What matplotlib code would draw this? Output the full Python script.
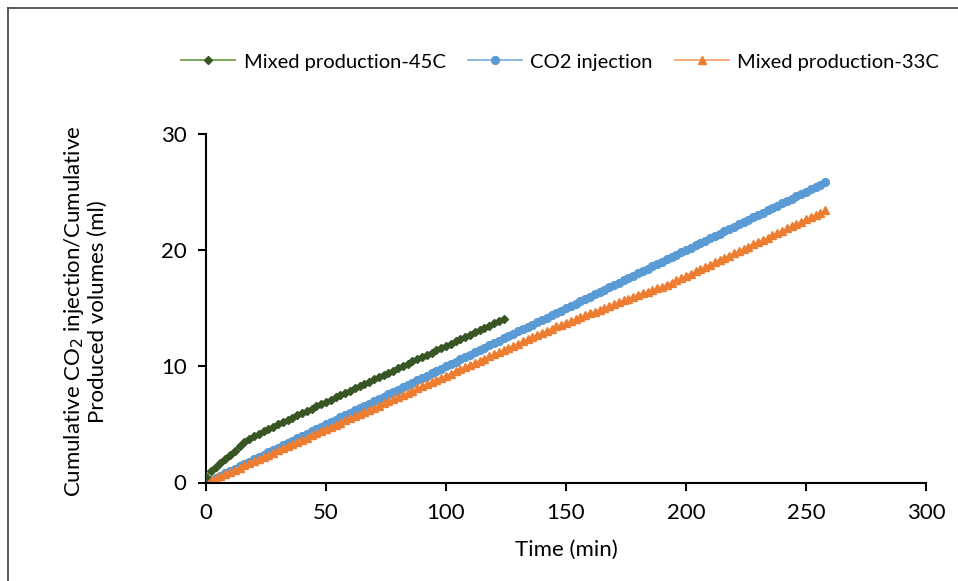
import matplotlib.pyplot as plt
from matplotlib.lines import Line2D

# sampling times (min)
time_min = [
    0, 2, 4, 6, 8, 10, 12, 14, 16, 18, 20, 22, 24, 26, 28, 30, 32, 34, 36, 38,
    40, 42, 44, 46, 48, 50, 52, 54, 56, 58, 60, 62, 64, 66, 68, 70, 72, 74, 76, 78,
    80, 82, 84, 86, 88, 90, 92, 94, 96, 98, 100, 102, 104, 106, 108, 110, 112, 114, 116, 118,
    120, 122, 124, 126, 128, 130, 132, 134, 136, 138, 140, 142, 144, 146, 148, 150, 152, 154, 156, 158,
    160, 162, 164, 166, 168, 170, 172, 174, 176, 178, 180, 182, 184, 186, 188, 190, 192, 194, 196, 198,
    200, 202, 204, 206, 208, 210, 212, 214, 216, 218, 220, 222, 224, 226, 228, 230, 232, 234, 236, 238,
    240, 242, 244, 246, 248, 250, 252, 254, 256, 258,
]

mixed_45c = [
    0.50, 1.00, 1.35, 1.70, 2.05, 2.40, 2.75, 3.10, 3.45, 3.75, 4.00, 4.20, 4.40, 4.60, 4.80, 5.00,
    5.19, 5.39, 5.58, 5.77, 5.97, 6.16, 6.36, 6.55, 6.74, 6.94, 7.13, 7.32, 7.52, 7.71,
    7.90, 8.10, 8.29, 8.48, 8.68, 8.87, 9.06, 9.26, 9.45, 9.64, 9.84, 10.03, 10.22, 10.42,
    10.61, 10.80, 11.00, 11.19, 11.38, 11.58, 11.77, 11.96, 12.16, 12.35, 12.54, 12.74,
    12.93, 13.12, 13.32, 13.51, 13.70, 13.90, 14.09,
]

co2_injection = [
    0.00, 0.20, 0.40, 0.60, 0.80, 1.00, 1.20, 1.40, 1.60, 1.80, 2.00, 2.20, 2.40, 2.60, 2.80, 3.00,
    3.20, 3.40, 3.60, 3.80, 4.00, 4.20, 4.40, 4.60, 4.80, 5.00, 5.20, 5.40, 5.60, 5.80,
    6.00, 6.20, 6.40, 6.60, 6.80, 7.00, 7.20, 7.40, 7.60, 7.80, 8.00, 8.20, 8.40, 8.60,
    8.80, 9.00, 9.20, 9.40, 9.60, 9.80, 10.00, 10.20, 10.40, 10.60, 10.80, 11.00, 11.20,
    11.40, 11.60, 11.80, 12.00, 12.20, 12.40, 12.60, 12.80, 13.00, 13.20, 13.40, 13.60,
    13.80, 14.00, 14.20, 14.40, 14.60, 14.80, 15.00, 15.20, 15.40, 15.60, 15.80, 16.00,
    16.20, 16.40, 16.60, 16.80, 17.00, 17.20, 17.40, 17.60, 17.80, 18.00, 18.20, 18.40,
    18.60, 18.80, 19.00, 19.20, 19.40, 19.60, 19.80, 20.00, 20.21, 20.41, 20.61, 20.81,
    21.01, 21.21, 21.41, 21.61, 21.81, 22.02, 22.22, 22.42, 22.62, 22.82, 23.02, 23.22,
    23.42, 23.62, 23.82, 24.03, 24.23, 24.43, 24.63, 24.83, 25.03, 25.23, 25.43, 25.63, 25.85,
]

mixed_33c = [
    0.00, 0.18, 0.37, 0.55, 0.74, 0.92, 1.10, 1.29, 1.47, 1.66, 1.84, 2.02, 2.21, 2.39, 2.58, 2.76,
    2.94, 3.13, 3.31, 3.50, 3.68, 3.86, 4.05, 4.23, 4.42, 4.60, 4.78, 4.97, 5.15, 5.34,
    5.52, 5.70, 5.89, 6.07, 6.26, 6.44, 6.62, 6.81, 6.99, 7.18, 7.36, 7.54, 7.73, 7.91,
    8.10, 8.28, 8.46, 8.65, 8.83, 9.02, 9.20, 9.38, 9.57, 9.75, 9.94, 10.12, 10.30, 10.49,
    10.67, 10.86, 11.04, 11.22, 11.41, 11.59, 11.78, 11.96, 12.14, 12.33, 12.51, 12.70,
    12.88, 13.06, 13.25, 13.43, 13.59, 13.75, 13.91, 14.07, 14.23, 14.39, 14.55, 14.71,
    14.87, 15.03, 15.19, 15.35, 15.51, 15.67, 15.83, 15.99, 16.15, 16.29, 16.43, 16.57,
    16.71, 16.86, 17.02, 17.21, 17.40, 17.60, 17.79, 17.99, 18.18, 18.37, 18.57, 18.76,
    18.96, 19.15, 19.34, 19.54, 19.73, 19.93, 20.12, 20.31, 20.51, 20.70, 20.90, 21.09,
    21.28, 21.48, 21.67, 21.87, 22.06, 22.25, 22.45, 22.64, 22.84, 23.03, 23.22, 23.42,
]

x_ticks = [0, 50, 100, 150, 200, 250, 300]
y_ticks = [0, 10, 20, 30]

plt.rcParams['font.family'] = ['Lato', 'DejaVu Sans']
FS = 16

W, H = 958, 581
fig = plt.figure(figsize=(W / 100, H / 100), dpi=100)
ax = fig.add_axes([206 / W, 1 - 482.5 / H, 720 / W, 348.5 / H])

# outer frame (Excel chart area border, partly cut off)
fig.add_artist(Line2D([8 / W, 8 / W], [0, 1 - 8 / H], transform=fig.transFigure,
                      color='#404040', lw=1.2))
fig.add_artist(Line2D([8 / W, 1], [1 - 8 / H, 1 - 8 / H], transform=fig.transFigure,
                      color='#404040', lw=1.2))

ax.plot(time_min[:len(mixed_45c)], mixed_45c, color='#70A050', lw=1.3,
        marker='D', ms=4.4, mfc='#375623', mec='#375623', label='Mixed production-45C', zorder=3)
ax.plot(time_min, co2_injection, color='#80B4E2', lw=1.3,
        marker='o', ms=5.6, mfc='#5B9BD5', mec='#5B9BD5', label='CO2 injection', zorder=2)
ax.plot(time_min, mixed_33c, color='#F4A46E', lw=1.3,
        marker='^', ms=6.2, mfc='#ED7D31', mec='#ED7D31', label='Mixed production-33C', zorder=2)

ax.set_xlim(0, 300)
ax.set_ylim(0, 30)
ax.set_xticks(x_ticks)
ax.set_yticks(y_ticks)
ax.spines['top'].set_visible(False)
ax.spines['right'].set_visible(False)
for s in ['left', 'bottom']:
    ax.spines[s].set_linewidth(1.5)
    ax.spines[s].set_color('black')
ax.tick_params(axis='both', direction='out', length=6, width=1.5, labelsize=FS)
ax.tick_params(axis='x', pad=9)
ax.tick_params(axis='y', pad=8)

ax.set_xlabel('Time (min)', fontsize=FS)
ax.xaxis.set_label_coords(0.5, -0.165)
ax.set_ylabel('Cumulative CO$_2$ injection/Cumulative\nProduced volumes (ml)', fontsize=FS,
              linespacing=1.15)
ax.yaxis.set_label_coords(-0.136, 0.49)

ax.legend(loc='center', bbox_to_anchor=(560 / W, 1 - 62 / H), bbox_transform=fig.transFigure,
          ncol=3, frameon=False, fontsize=14.5, handlelength=2.7, columnspacing=1.1,
          handletextpad=0.4)

fig.savefig('out.png', dpi=100)
